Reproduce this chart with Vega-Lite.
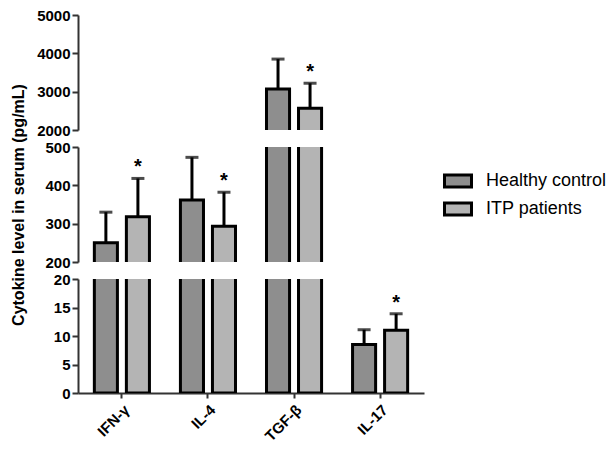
{
  "$schema": "https://vega.github.io/schema/vega-lite/v6.json",
  "padding": {"left": 10, "top": 8, "right": 5, "bottom": 5},
  "background": "white",
  "data": {"values": [
    {"cytokine": "IFN-γ", "group": "Healthy control", "value": 250, "err": 330, "sig": ""},
    {"cytokine": "IFN-γ", "group": "ITP patients", "value": 318, "err": 418, "sig": "*"},
    {"cytokine": "IL-4", "group": "Healthy control", "value": 362, "err": 473, "sig": ""},
    {"cytokine": "IL-4", "group": "ITP patients", "value": 293, "err": 382, "sig": "*"},
    {"cytokine": "TGF-β", "group": "Healthy control", "value": 3070, "err": 3850, "sig": ""},
    {"cytokine": "TGF-β", "group": "ITP patients", "value": 2570, "err": 3220, "sig": "*"},
    {"cytokine": "IL-17", "group": "Healthy control", "value": 8.5, "err": 11.1, "sig": ""},
    {"cytokine": "IL-17", "group": "ITP patients", "value": 11.0, "err": 13.9, "sig": "*"}
  ]},
  "spacing": 17,
  "bounds": "flush",
  "config": {
    "view": {"stroke": null},
    "font": "Liberation Sans",
    "axis": {"grid": false, "domainColor": "#333", "domainWidth": 2, "tickColor": "#333", "tickWidth": 2, "tickSize": 6, "labelFont": "Liberation Sans", "labelFontWeight": "bold", "labelFontSize": 15, "labelColor": "black", "titleFont": "Liberation Sans", "titleFontWeight": "bold", "titleFontSize": 16, "titleColor": "black", "labelPadding": 2, "labelOverlap": false, "labelFlush": false},
    "legend": {"labelFont": "Liberation Sans", "labelFontSize": 18, "labelColor": "black"}
  },
  "vconcat": [
    {
      "width": 346, "height": 115,
      "encoding": {
        "x": {"field": "cytokine", "type": "nominal", "sort": null, "axis": null, "scale": {"paddingInner": 0.36, "paddingOuter": 0.19}},
        "xOffset": {"field": "group", "type": "nominal", "scale": {"paddingInner": 0.28, "paddingOuter": 0}}
      },
      "layer": [
        {"mark": {"type": "bar", "clip": true, "stroke": "black", "strokeWidth": 3},
         "encoding": {
           "y": {"field": "value", "type": "quantitative", "scale": {"domain": [2000, 5000], "nice": false, "zero": false}, "axis": {"values": [2000, 3000, 4000, 5000], "tickCount": 10, "format": "d", "title": null}},
           "y2": {"datum": 0},
           "fill": {"field": "group", "type": "nominal", "scale": {"range": ["#8e8e8e", "#b4b4b4"]},
             "legend": {"title": null, "orient": "none", "legendX": 365, "legendY": 151, "symbolType": "M-1,-0.44L1,-0.44L1,0.44L-1,0.44Z", "symbolSize": 729, "symbolStrokeColor": "black", "symbolStrokeWidth": 3, "rowPadding": 1, "labelOffset": 13}}
         }},
        {"mark": {"type": "rule", "clip": true, "color": "black", "strokeWidth": 3},
         "encoding": {
           "y": {"field": "value", "type": "quantitative"},
           "y2": {"field": "err"}
         }},
        {"mark": {"type": "tick", "clip": true, "color": "black", "thickness": 3, "size": 13},
         "encoding": {
           "y": {"field": "err", "type": "quantitative"}
         }},
        {"transform": [{"filter": "datum.sig != '' && datum.err >= 2000"}],
         "mark": {"type": "text", "clip": true, "color": "black", "fontSize": 20, "fontWeight": "bold", "baseline": "alphabetic", "dy": -5},
         "encoding": {
           "y": {"field": "err", "type": "quantitative"},
           "text": {"field": "sig"}
         }}
      ]
    },
    {
      "width": 346, "height": 115,
      "encoding": {
        "x": {"field": "cytokine", "type": "nominal", "sort": null, "axis": null, "scale": {"paddingInner": 0.36, "paddingOuter": 0.19}},
        "xOffset": {"field": "group", "type": "nominal", "scale": {"paddingInner": 0.28, "paddingOuter": 0}}
      },
      "layer": [
        {"mark": {"type": "bar", "clip": true, "stroke": "black", "strokeWidth": 3},
         "encoding": {
           "y": {"field": "value", "type": "quantitative", "scale": {"domain": [200, 500], "nice": false, "zero": false}, "axis": {"values": [200, 300, 400, 500], "tickCount": 10, "format": "d", "title": "Cytokine level in serum (pg/mL)", "titlePadding": 18}},
           "y2": {"datum": 0},
           "fill": {"field": "group", "type": "nominal", "scale": {"range": ["#8e8e8e", "#b4b4b4"]}, "legend": null}
         }},
        {"mark": {"type": "rule", "clip": true, "color": "black", "strokeWidth": 3},
         "encoding": {
           "y": {"field": "value", "type": "quantitative"},
           "y2": {"field": "err"}
         }},
        {"mark": {"type": "tick", "clip": true, "color": "black", "thickness": 3, "size": 13},
         "encoding": {
           "y": {"field": "err", "type": "quantitative"}
         }},
        {"transform": [{"filter": "datum.sig != '' && datum.err >= 200 && datum.err <= 500"}],
         "mark": {"type": "text", "clip": true, "color": "black", "fontSize": 20, "fontWeight": "bold", "baseline": "alphabetic", "dy": -5},
         "encoding": {
           "y": {"field": "err", "type": "quantitative"},
           "text": {"field": "sig"}
         }}
      ]
    },
    {
      "width": 346, "height": 114,
      "encoding": {
        "x": {"field": "cytokine", "type": "nominal", "sort": null, "scale": {"paddingInner": 0.36, "paddingOuter": 0.19}, "axis": {"title": null, "labelAngle": -45, "labelFontSize": 15, "tickSize": 5, "labelPadding": 4}},
        "xOffset": {"field": "group", "type": "nominal", "scale": {"paddingInner": 0.28, "paddingOuter": 0}}
      },
      "layer": [
        {"mark": {"type": "bar", "clip": true, "stroke": "black", "strokeWidth": 3},
         "encoding": {
           "y": {"field": "value", "type": "quantitative", "scale": {"domain": [0, 20], "nice": false}, "axis": {"values": [0, 5, 10, 15, 20], "tickCount": 10, "format": "d", "title": null}},
           "fill": {"field": "group", "type": "nominal", "scale": {"range": ["#8e8e8e", "#b4b4b4"]}, "legend": null}
         }},
        {"mark": {"type": "rule", "clip": true, "color": "black", "strokeWidth": 3},
         "encoding": {
           "y": {"field": "value", "type": "quantitative"},
           "y2": {"field": "err"}
         }},
        {"mark": {"type": "tick", "clip": true, "color": "black", "thickness": 3, "size": 13},
         "encoding": {
           "y": {"field": "err", "type": "quantitative"}
         }},
        {"transform": [{"filter": "datum.sig != '' && datum.err <= 20"}],
         "mark": {"type": "text", "clip": true, "color": "black", "fontSize": 20, "fontWeight": "bold", "baseline": "alphabetic", "dy": -5},
         "encoding": {
           "y": {"field": "err", "type": "quantitative"},
           "text": {"field": "sig"}
         }}
      ]
    }
  ]
}
